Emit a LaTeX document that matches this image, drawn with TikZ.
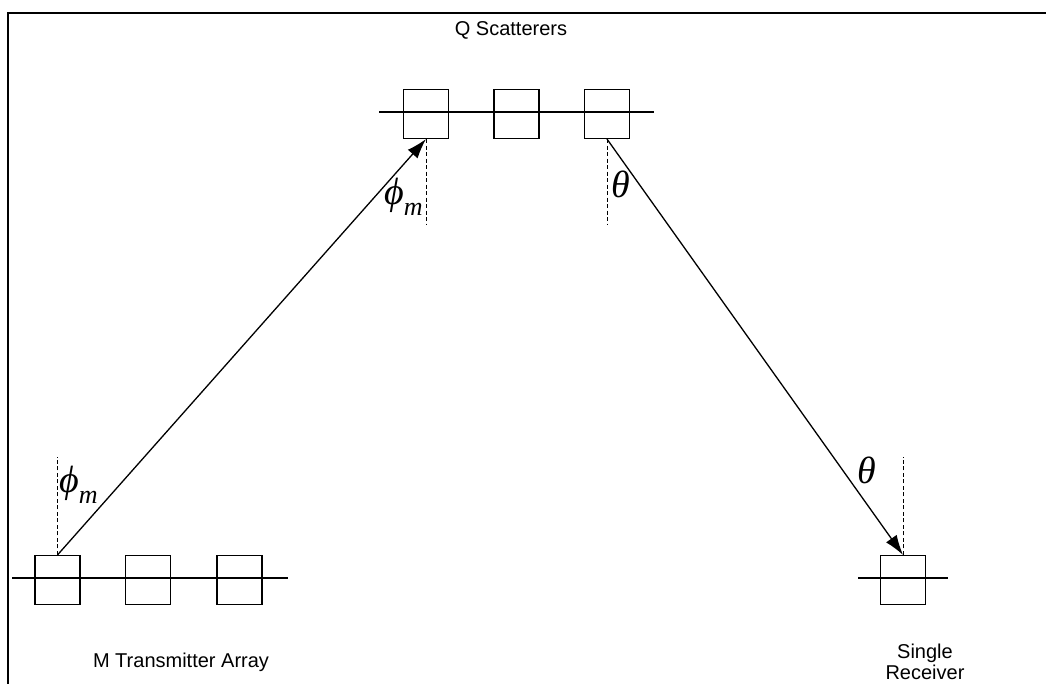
\documentclass[tikz,border=0pt]{standalone}
\usepackage{fontspec}
\setmainfont{Liberation Sans}
\newfontfamily\anglefont{Liberation Serif}
\usetikzlibrary{arrows.meta,calc}
\newcommand{\phisub}{ϕ\raisebox{-11pt}{\fontsize{26}{28}\selectfont m}}
\begin{document}
\begin{tikzpicture}[x=1pt,y=-1pt,
  elem/.style={draw,line width=1.1pt,minimum width=45pt,minimum height=49pt,inner sep=0pt},
  rail/.style={line width=2.8pt},
  ray/.style={line width=1.3pt,-{Latex[length=20pt,width=13pt]}},
  normal/.style={line width=0.8pt,dash pattern=on 4pt off 2.5pt},
  lbl/.style={font=\fontsize{20}{21}\selectfont,align=center,inner sep=0pt},
  ang/.style={font=\anglefont\itshape\fontsize{38}{40}\selectfont,inner sep=0pt,anchor=base west}]
\useasboundingbox (0,0) rectangle (1046,684);
% frame
\draw[line width=2pt] (8,684) -- (8,13) -- (1046,13);
% scatterers
\draw[rail] (379,112) -- (654,112);
\node[elem] (s1) at (426,114) {};
\node[elem] (s2) at (516.5,114) {};
\node[elem] (s3) at (607,114) {};
\node[lbl] (qs) at (511,30) {Q Scatterers};
% transmitter array
\draw[rail] (12,578) -- (288,578);
\node[elem] (t1) at (57.5,580) {};
\node[elem] (t2) at (148,580) {};
\node[elem] (t3) at (239.5,580) {};
\node[lbl] (tx) at (181,662) {M Transmitter Array};
% receiver
\draw[rail] (858,578) -- (948,578);
\node[elem] (r1) at (903,580) {};
\node[lbl] (rx) at (925,662) {Single\\Receiver};
% normals
\coordinate (n1) at ($(t1.north)+(0,-98)$);
\coordinate (n2) at ($(s1.south)+(0,86)$);
\coordinate (n3) at ($(s3.south)+(0,86)$);
\coordinate (n4) at ($(r1.north)+(0,-98)$);
\draw[normal] (t1.north) -- (n1);
\draw[normal] (s1.south) -- (n2);
\draw[normal] (s3.south) -- (n3);
\draw[normal] (r1.north) -- (n4);
% rays
\draw[ray] (t1.north) -- (s1.south);
\draw[ray] (s3.south) -- (r1.north);
% angles
\node[ang] (a1) at (59,492) {\phisub};
\node[ang] (a2) at (384,205) {\phisub};
\node[ang] (a3) at (611,198) {θ};
\node[ang] (a4) at (857,483) {θ};
\end{tikzpicture}
\end{document}
